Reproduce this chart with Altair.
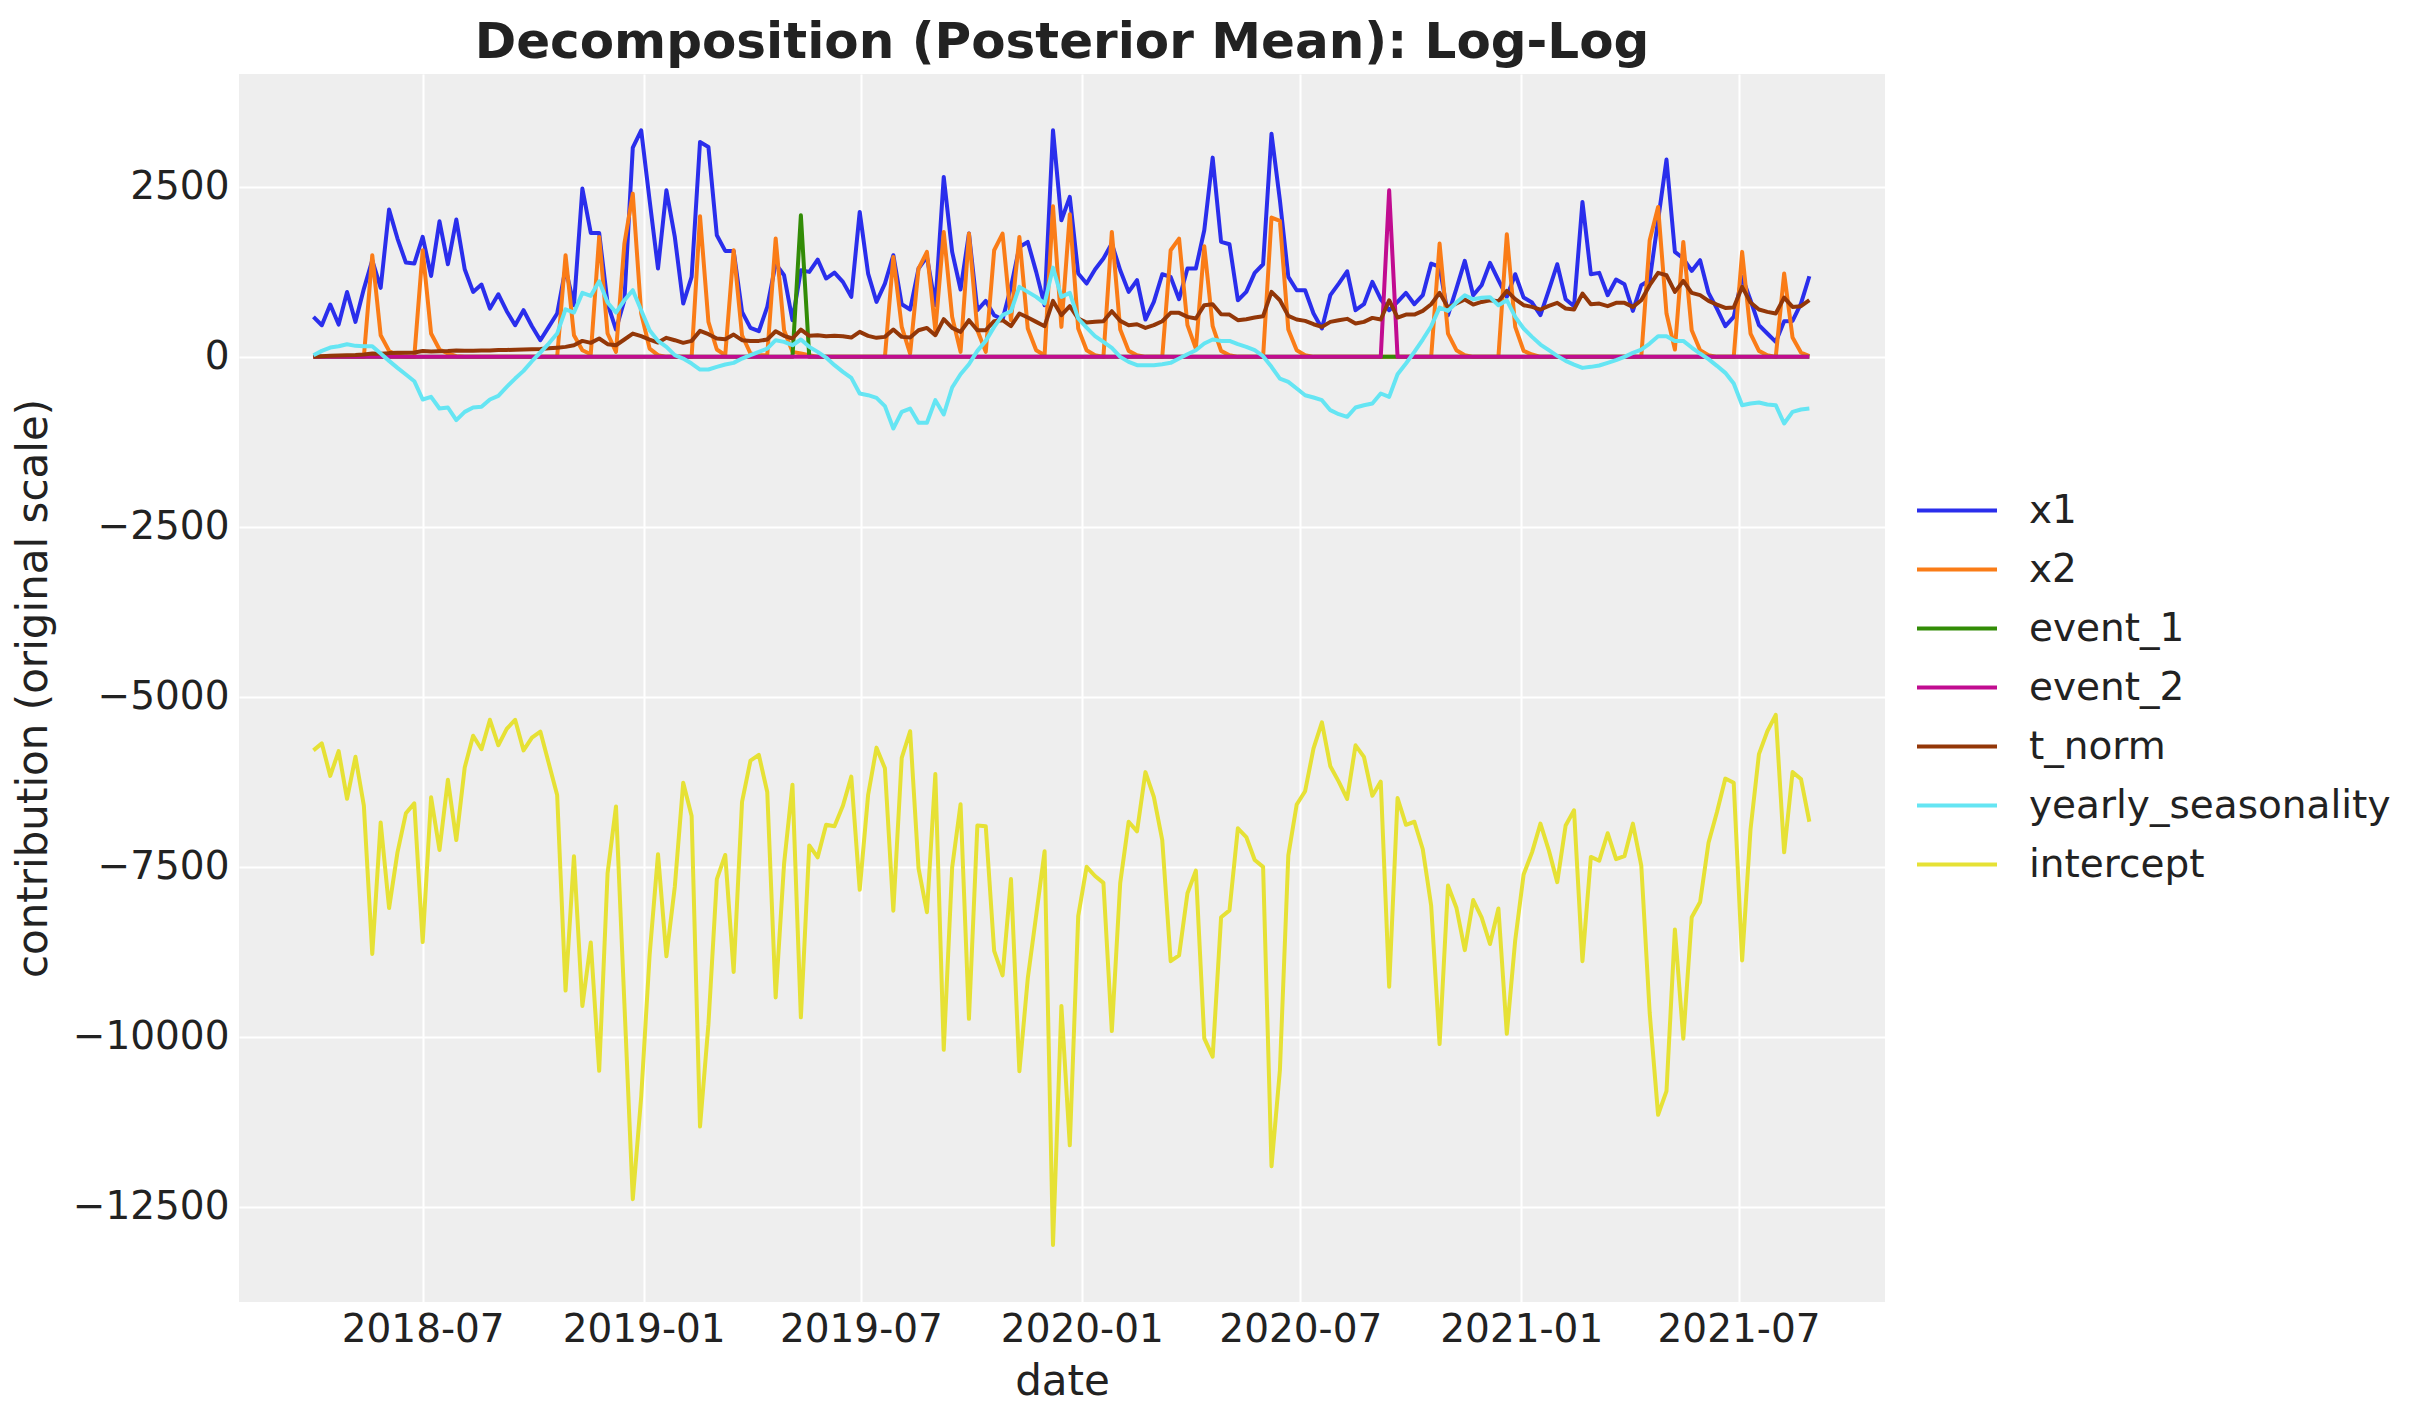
import altair as alt
import pandas as pd

start_date = "2018-04-01"
n_weeks = 179

series_names = ["x1", "x2", "event_1", "event_2", "t_norm", "yearly_seasonality", "intercept"]
series_colors = ["#2a2eec", "#fa7c17", "#328c06", "#c10c90", "#933708", "#65e5f3", "#e6e135"]

x1 = [588, 465, 770, 475, 955, 515, 1000, 1420, 1015, 2166, 1740, 1387, 1372, 1764, 1190, 1994, 1362, 2019, 1289, 955,
      1063, 710, 921, 671, 465, 686, 450, 245, 441, 637, 1300, 760, 2475, 1823, 1823, 784, 402, 833, 3077, 3332,
      2303, 1300, 2450, 1764, 784, 1176, 3160, 3087, 1789, 1558, 1558, 662, 426, 377, 735, 1372, 1200, 539, 1274, 1250,
      1431, 1152, 1240, 1103, 882, 2132, 1225, 809, 1078, 1495, 774, 696, 1299, 1470, 760, 2646, 1544, 990, 1813, 686,
      823, 613, 549, 1029, 1617, 1690, 1250, 760, 3332, 2009, 2352, 1225, 1078, 1284, 1446, 1666, 1274, 956, 1127, 549,
      809, 1215, 1176, 848, 1299, 1299, 1862, 2930, 1691, 1656, 833, 956, 1235, 1362, 3283, 2303, 1176, 980, 980, 637,
      417, 907, 1078, 1259, 686, 774, 1103, 848, 686, 809, 941, 774, 907, 1372, 1323, 613, 1005, 1411, 907, 1054,
      1382, 1127, 882, 1215, 872, 799, 613, 980, 1362, 848, 745, 2279, 1215, 1235, 907, 1137, 1068, 676, 1054, 1127,
      2009, 2901, 1544, 1446, 1264, 1421, 941, 710, 451, 588, 1176, 833, 466, 343, 220, 524, 529, 784, 1186]

x2 = [0, 0, 0, 0, 0, 0, 0, 1495, 318, 88, 20, 0, 0, 1568, 343, 108, 49, 10, 0, 0,
      0, 0, 0, 0, 0, 0, 0, 0, 0, 0, 1495, 318, 98, 39, 1764, 343, 73, 1666, 2401, 637,
      122, 25, 0, 0, 0, 0, 2068, 515, 108, 25, 1568, 318, 49, 25, 25, 1740, 392, 73, 49, 25,
      0, 0, 0, 0, 0, 0, 0, 0, 0, 1470, 441, 49, 1299, 1544, 392, 1838, 588, 73, 1813, 392,
      73, 1568, 1813, 539, 1764, 417, 98, 25, 2215, 441, 2097, 417, 98, 25, 0, 1838, 402, 88, 25, 0,
      0, 0, 1568, 1740, 466, 122, 1627, 451, 88, 25, 0, 0, 0, 0, 2048, 1999, 402, 98, 25, 0,
      0, 0, 0, 0, 0, 0, 0, 0, 0, 0, 0, 0, 0, 0, 1666, 343, 98, 25, 0, 0,
      0, 0, 1803, 441, 88, 34, 0, 0, 0, 0, 0, 0, 0, 0, 0, 0, 0, 0, 0, 1715,
      2205, 637, 108, 1690, 392, 98, 25, 0, 0, 0, 1544, 343, 88, 25, 0, 1225, 284, 64, 10]

event_1 = [0] * 58 + [2082] + [0] * 120
event_2 = [0] * 128 + [2450] + [0] * 50

t_norm = [0, 10, 15, 20, 25, 28, 35, 50, 45, 55, 60, 62, 65, 85, 78, 82, 85, 95, 90, 90,
          92, 95, 100, 102, 105, 110, 112, 115, 125, 135, 147, 171, 235, 206, 270, 186, 171, 255, 343, 304,
          255, 211, 280, 245, 206, 235, 382, 333, 270, 260, 328, 245, 235, 235, 255, 377, 309, 270, 402, 309,
          318, 304, 309, 304, 284, 368, 309, 280, 294, 402, 294, 284, 392, 426, 318, 554, 426, 368, 539, 392,
          392, 524, 539, 451, 637, 578, 515, 451, 823, 613, 745, 564, 505, 515, 524, 671, 529, 466, 480, 426,
          466, 524, 647, 647, 588, 564, 760, 774, 627, 622, 539, 554, 578, 598, 956, 833, 603, 549, 529, 480,
          441, 515, 539, 559, 490, 515, 573, 549, 833, 578, 622, 622, 676, 774, 941, 725, 784, 843, 769, 808,
          833, 818, 970, 848, 760, 735, 696, 750, 794, 711, 696, 931, 774, 784, 745, 794, 794, 735, 833, 1054,
          1235, 1200, 956, 1117, 941, 907, 823, 769, 720, 725, 1029, 799, 696, 662, 637, 872, 735, 745, 833]

yearly_seasonality = [25, 88, 137, 157, 186, 162, 157, 157, 49, -59, -162, -260, -358, -627, -588, -760, -745, -931, -809, -745,
                      -735, -627, -573, -441, -319, -206, -64, 64, 196, 343, 700, 652, 941, 897, 1112, 799, 652, 833, 980, 686,
                      392, 235, 147, 25, -25, -98, -186, -186, -147, -113, -88, -25, 25, 73, 122, 245, 220, 171, 255, 147,
                      73, -10, -122, -220, -309, -539, -564, -603, -725, -1054, -809, -760, -970, -970, -637, -848, -451, -255, -108, 88,
                      235, 441, 613, 671, 1029, 956, 882, 784, 1313, 882, 941, 564, 430, 306, 220, 132, 0, -74, -122, -122,
                      -122, -108, -88, -25, 39, 98, 196, 255, 235, 235, 186, 147, 98, 10, -147, -319, -368, -466, -564, -598,
                      -637, -784, -843, -882, -745, -711, -686, -539, -588, -255, -98, 73, 255, 451, 725, 676, 799, 907, 848, 870,
                      877, 760, 833, 588, 417, 294, 181, 98, 15, -59, -113, -162, -147, -127, -88, -49, 0, 59, 108, 196,
                      304, 304, 235, 235, 137, 49, -34, -132, -235, -392, -711, -686, -671, -701, -711, -980, -809, -774, -760]

intercept = [-5787, -5685, -6163, -5798, -6500, -5882, -6601, -8781, -6848, -8107, -7287, -6713, -6567, -8607, -6478, -7253, -6219, -7107, -6039, -5573,
             -5770, -5337, -5713, -5472, -5337, -5787, -5601, -5511, -5978, -6444, -9320, -7343, -9545, -8612, -10500, -7595, -6612, -9506, -12388, -10882,
             -8803, -7315, -8815, -7792, -6264, -6753, -11320, -9815, -7680, -7326, -9045, -6545, -5938, -5854, -6399, -9421, -7455, -6292, -9713, -7185,
             -7360, -6882, -6904, -6601, -6174, -7837, -6444, -5747, -6051, -8146, -5899, -5506, -7522, -8168, -6135, -10191, -7511, -6579, -9736, -6893,
             -6904, -8736, -9096, -7680, -10506, -9140, -8213, -7270, -13062, -9545, -11595, -8225, -7500, -7635, -7736, -9916, -7736, -6837, -6978, -6107,
             -6472, -7107, -8888, -8803, -7888, -7556, -10022, -10292, -8242, -8140, -6933, -7062, -7399, -7500, -11904, -10489, -7331, -6584, -6388, -5758,
             -5376, -6022, -6247, -6500, -5713, -5882, -6455, -6247, -9264, -6489, -6882, -6837, -7242, -8073, -10107, -7775, -8101, -8725, -7989, -8242,
             -8635, -8112, -9955, -8579, -7612, -7287, -6865, -7258, -7725, -6893, -6669, -8888, -7354, -7410, -7006, -7388, -7343, -6865, -7483, -9646,
             -11146, -10798, -8421, -10028, -8242, -8017, -7146, -6697, -6202, -6264, -8876, -6949, -5843, -5506, -5264, -7287, -6107, -6208, -6837]

y_ticks = [-12500, -10000, -7500, -5000, -2500, 0, 2500]
x_tick_dates = ["2018-07-01", "2019-01-01", "2019-07-01", "2020-01-01", "2020-07-01", "2021-01-01", "2021-07-01"]

dates = pd.date_range(start_date, periods=n_weeks, freq="7D")
values = {"x1": x1, "x2": x2, "event_1": event_1, "event_2": event_2, "t_norm": t_norm,
          "yearly_seasonality": yearly_seasonality, "intercept": intercept}
for k, v in values.items():
    if len(v) != n_weeks:
        raise ValueError(f"{k} has {len(v)} values")

frames = []
for order, name in enumerate(series_names):
    frames.append(pd.DataFrame({"date": dates.strftime("%Y-%m-%d"), "value": values[name],
                                "series": name, "order": order}))
df = pd.concat(frames, ignore_index=True)


def dt(s):
    y, m, d = (int(p) for p in s.split("-"))
    return alt.DateTime(year=y, month=m, date=d, utc=True)


FONT = "DejaVu Sans"
TXT = "#222222"

chart = alt.Chart(df).mark_line(strokeWidth=4, strokeJoin="round").encode(
    x=alt.X("date:T",
            scale=alt.Scale(type="utc", domain=[dt("2018-01-29"), dt("2021-10-31")], nice=False),
            axis=alt.Axis(title="date", values=[dt(s) for s in x_tick_dates], format="%Y-%m",
                          labelAngle=0, labelPadding=8, titlePadding=12)),
    y=alt.Y("value:Q",
            scale=alt.Scale(domain=[-13900, 4160], nice=False, zero=False),
            axis=alt.Axis(title="contribution (original scale)", values=y_ticks, format="d",
                          labelPadding=10, titlePadding=17)),
    color=alt.Color("series:N",
                    scale=alt.Scale(domain=series_names, range=series_colors),
                    legend=alt.Legend(title=None, orient="none", legendX=1676, legendY=417,
                                      symbolType="stroke", symbolSize=6400, symbolStrokeWidth=4,
                                      labelFontSize=39, labelFont=FONT, labelColor=TXT, labelLimit=0,
                                      labelOffset=30, clipHeight=39, rowPadding=19, padding=0)),
    detail="order:O",
).properties(
    width=1646,
    height=1228,
    title=alt.TitleParams("Decomposition (Posterior Mean): Log-Log", font=FONT, fontSize=50,
                          fontWeight="bold", color=TXT, anchor="middle", offset=6),
    autosize=alt.AutoSizeParams(type="none"),
    padding={"left": 231, "top": 66, "right": 530, "bottom": 113},
).configure_view(
    fill="#eeeeee", stroke=None
).configure_axis(
    labelFont=FONT, labelFontSize=39, labelColor=TXT,
    titleFont=FONT, titleFontSize=42, titleFontWeight="normal", titleColor=TXT,
    grid=True, gridColor="#ffffff", gridWidth=2, gridOpacity=1,
    domain=False, ticks=False,
)

chart.save("out.html", embed_options={"renderer": "svg", "actions": False})
